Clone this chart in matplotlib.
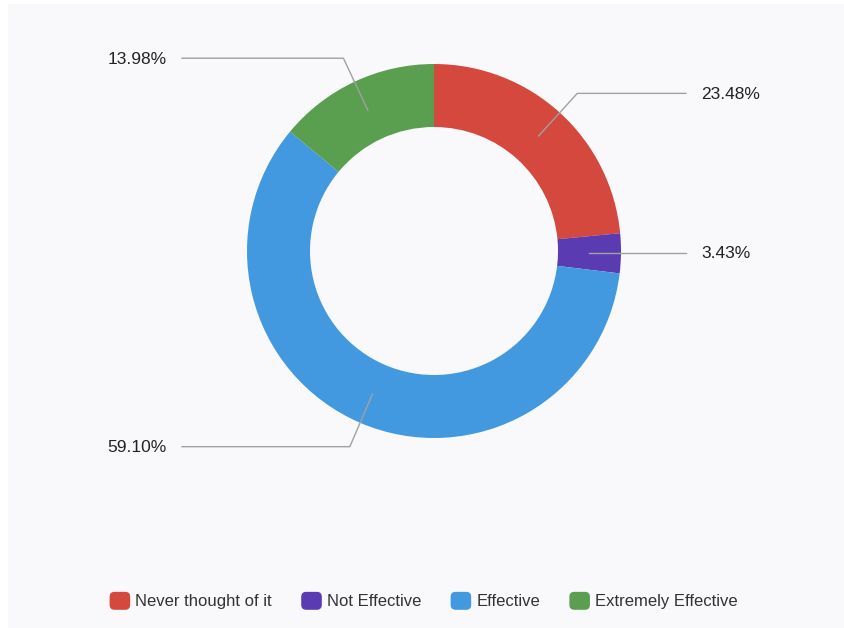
import numpy as np
import matplotlib.pyplot as plt
from matplotlib.patches import Rectangle, FancyBboxPatch, Patch
from matplotlib.legend_handler import HandlerPatch

plt.rcParams['font.family'] = ['Liberation Sans', 'DejaVu Sans']

categories = ['Never thought of it', 'Not Effective', 'Effective', 'Extremely Effective']
shares = [23.48, 3.43, 59.10, 13.98]
colors = ['#d4483d', '#5a3bb2', '#4399e0', '#5a9e50']

W, H = 845, 628
fig = plt.figure(figsize=(W / 100, H / 100), dpi=100)
fig.patch.set_facecolor('white')
ax = fig.add_axes([0, 0, 1, 1])

# light panel behind the chart
ax.add_patch(Rectangle((8, 0), W - 8, H - 4, facecolor='#f9f9fb', edgecolor='none', zorder=0))

cx, cy = 434, H - 251
r_out, ring = 187, 63
wedges, _ = ax.pie(shares, colors=colors, startangle=90, counterclock=False,
                   radius=r_out, center=(cx, cy),
                   wedgeprops=dict(width=ring, edgecolor='none'), frame=True)
ax.set_xlim(0, W)
ax.set_ylim(0, H)
ax.set_aspect('equal')
ax.axis('off')

# leader lines + percentage labels
r_mid = r_out - ring / 2
for w, val in zip(wedges, shares):
    ang = np.deg2rad((w.theta1 + w.theta2) / 2)
    x0, y0 = cx + r_mid * np.cos(ang), cy + r_mid * np.sin(ang)
    side = 1 if np.cos(ang) >= 0 else -1
    if abs(np.sin(ang)) < 0.2:
        xs, ys = [x0, cx + side * 252], [y0, y0]
    else:
        x1, y1 = cx + 213 * np.cos(ang), cy + 213 * np.sin(ang)
        xs, ys = [x0, x1, cx + side * 252], [y0, y1, y1]
    ax.plot(xs, ys, color='#a0a0a6', lw=1, zorder=3)
    ax.text(cx + side * 267, ys[-1] - 1, f'{val:.2f}%', ha='left' if side > 0 else 'right',
            va='center', fontsize=12.5, color='#222222')


def rounded_box(legend, orig_handle, xdescent, ydescent, width, height, fontsize):
    return FancyBboxPatch((-xdescent, -ydescent), width, height,
                          boxstyle='round,pad=0,rounding_size=3')


handles = [Patch(color=c) for c in colors]
fig.legend(handles, categories, loc='center', bbox_to_anchor=(424 / W, 1 - 601 / H),
           ncol=4, frameon=False, fontsize=12, handlelength=1.15, handleheight=1.15,
           handletextpad=0.35, columnspacing=1.8, labelcolor='#333333',
           handler_map={Patch: HandlerPatch(patch_func=rounded_box)})

fig.savefig('out.png', dpi=100, facecolor='white')
